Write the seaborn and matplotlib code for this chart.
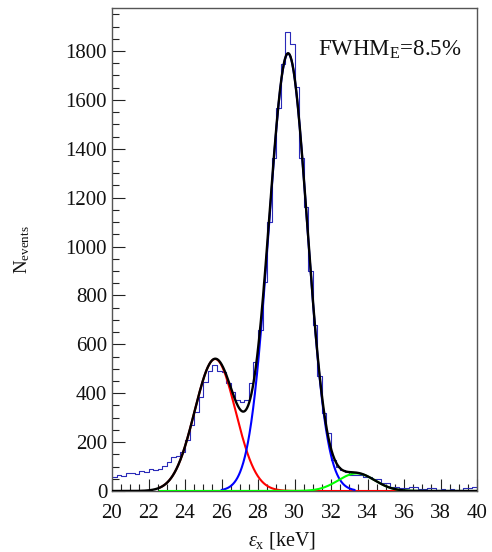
import numpy as np
import pandas as pd
import matplotlib
matplotlib.use("Agg")
import matplotlib.pyplot as plt
import seaborn as sns
from matplotlib.ticker import MultipleLocator

# ---------------- data ----------------
bin_low_kev = 20.0
bin_width_kev = 0.25
counts = [56, 64, 61, 75, 73, 68, 80, 78, 88, 86,
          92, 102, 118, 138, 145, 158, 210, 272, 325, 385,
          447, 492, 515, 490, 485, 440, 405, 372, 365, 372,
          443, 529, 659, 856, 1100, 1362, 1567, 1745, 1879, 1827,
          1654, 1361, 1160, 900, 680, 470, 320, 236, 127, 100,
          85, 79, 66, 65, 64, 58, 56, 48, 48, 31,
          31, 18, 18, 12, 12, 18, 18, 8, 8, 12,
          12, 6, 8, 5, 8, 4, 4, 12, 12, 18]

# gaussian fit components: amplitude, mean [keV], sigma [keV]
red_fit = [540.0, 25.65, 1.12]
blue_fit = [1790.0, 29.65, 1.05]
green_fit = [72.0, 33.4, 1.0]
# drawing ranges of each fit function [keV]
red_range = [22.6, 36.05]
blue_range = [26.0, 33.3]
green_range = [22.6, 40.0]
total_range = [20.0, 40.0]

x_ticks = [20, 22, 24, 26, 28, 30, 32, 34, 36, 38, 40]
y_ticks = [0, 200, 400, 600, 800, 1000, 1200, 1400, 1600, 1800]
fwhm_text = "FWHM$_{\\rm E}$=8.5%"
x_title = "$\\varepsilon_{\\rm x}$ [keV]"
y_title = "N$_{\\rm events}$"


def gauss(x, p):
    return p[0] * np.exp(-0.5 * ((x - p[1]) / p[2]) ** 2)


counts = np.array(counts, dtype=float)
edges = bin_low_kev + bin_width_kev * np.arange(len(counts) + 1)
centers = 0.5 * (edges[:-1] + edges[1:])
hist_df = pd.DataFrame({"energy": centers, "n": counts})

# ---------------- style ----------------
sns.set_style("white")
plt.rcParams["font.family"] = ["Liberation Serif", "DejaVu Serif"]
plt.rcParams["mathtext.fontset"] = "custom"
plt.rcParams["mathtext.rm"] = "Liberation Serif"
plt.rcParams["mathtext.it"] = "Liberation Serif:italic"
plt.rcParams["mathtext.bf"] = "Liberation Serif:bold"

fig = plt.figure(figsize=(4.92, 5.52), dpi=100)
ax = fig.add_axes([112 / 492, 61 / 552, 365 / 492, 483 / 552])

sns.histplot(data=hist_df, x="energy", weights="n",
             binwidth=bin_width_kev, binrange=(edges[0], edges[-1]),
             element="step", fill=False, color="#2a2ab8", linewidth=0.8,
             ax=ax, zorder=2)


def draw_fit(p, rng, color, lw, z):
    xs = np.linspace(rng[0], rng[1], 600)
    ys = gauss(xs, p)
    sns.lineplot(x=xs, y=ys, color=color, linewidth=lw, ax=ax, zorder=z,
                 estimator=None, sort=False)


draw_fit(red_fit, red_range, "#ff0000", 1.5, 3)
draw_fit(blue_fit, blue_range, "#0000ff", 1.5, 3)
draw_fit(green_fit, green_range, "#00ff00", 1.5, 4)

xt = np.linspace(total_range[0], total_range[1], 1200)
yt = gauss(xt, red_fit) + gauss(xt, blue_fit) + gauss(xt, green_fit)
sns.lineplot(x=xt, y=yt, color="black", linewidth=1.7, ax=ax, zorder=5,
             estimator=None, sort=False)

ax.set_xlim(20, 40)
ax.set_ylim(0, 1976)
ax.set_xticks(x_ticks)
ax.set_yticks(y_ticks)
ax.xaxis.set_minor_locator(MultipleLocator(0.5))
ax.yaxis.set_minor_locator(MultipleLocator(50))
ax.tick_params(axis="both", which="major", direction="in", length=9,
               width=0.8, color="#222222", labelsize=15, labelcolor="#111111")
ax.tick_params(axis="both", which="minor", direction="in", length=4.7,
               width=0.8, color="#222222")
ax.tick_params(axis="x", which="major", pad=9)
ax.tick_params(axis="y", which="major", pad=3.5)
ax.tick_params(top=False, right=False, bottom=True, left=True,
               which="both")
for s in ax.spines.values():
    s.set_visible(True)
    s.set_color("#555555")
    s.set_linewidth(1.0)

ax.set_xlabel(x_title, fontsize=14.5, color="#111111")
ax.set_ylabel(y_title, fontsize=13.5, color="#111111")
ax.xaxis.set_label_coords((282 - 112) / 365, -(530 - 491) / 483)
ax.yaxis.set_label_coords(-(112 - 32) / 365, 0.5)

ax.text((318 - 112) / 365, (491 - 56) / 483, fwhm_text, transform=ax.transAxes,
        fontsize=16.5, ha="left", va="baseline", color="#111111")

fig.savefig("out.png", dpi=100)
